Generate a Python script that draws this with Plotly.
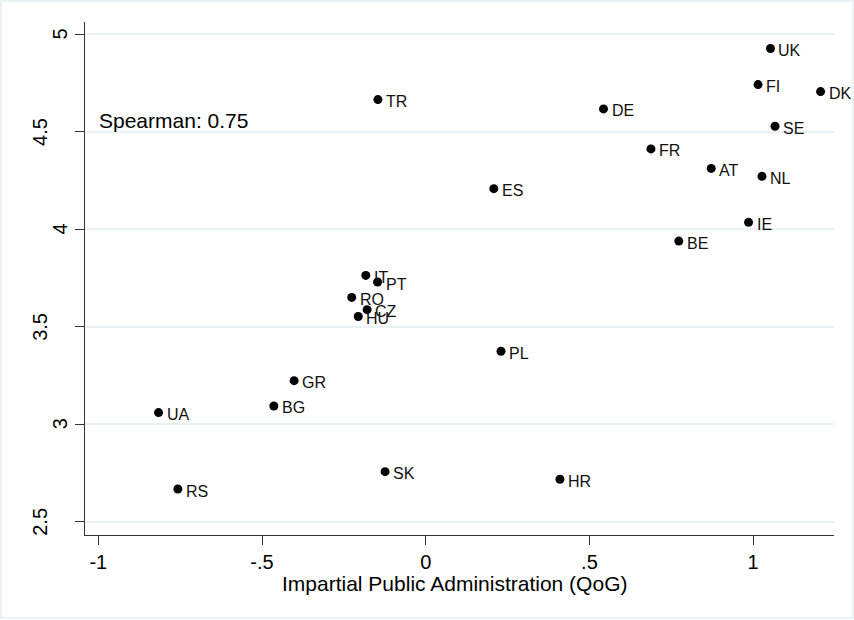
import plotly.graph_objects as go

countries = ["UK", "FI", "DK", "DE", "TR", "SE", "FR", "AT", "NL", "ES", "IE", "BE",
             "IT", "PT", "RO", "CZ", "HU", "PL", "GR", "BG", "UA", "SK", "HR", "RS"]
qog = [1.053, 1.015, 1.206, 0.543, -0.146, 1.067, 0.688, 0.872, 1.027, 0.208, 0.986, 0.773,
       -0.183, -0.147, -0.226, -0.179, -0.206, 0.230, -0.402, -0.464, -0.816, -0.124, 0.410, -0.757]
score = [4.928, 4.743, 4.707, 4.618, 4.666, 4.529, 4.413, 4.313, 4.272, 4.209, 4.036, 3.940,
         3.764, 3.730, 3.651, 3.588, 3.553, 3.375, 3.224, 3.094, 3.060, 2.757, 2.718, 2.668]

x_ticks = [-1, -0.5, 0, 0.5, 1]
x_tick_labels = ["-1", "-.5", "0", ".5", "1"]
y_ticks = [2.5, 3, 3.5, 4, 4.5, 5]
y_tick_labels = ["2.5", "3", "3.5", "4", "4.5", "5"]

x_title = "Impartial Public Administration (QoG)"
note_text = "Spearman: 0.75"
note_x, note_y = -1.0, 4.56

FONT = "Liberation Sans, Arial, sans-serif"
GRID = "#EAF2F3"

fig = go.Figure()
fig.add_trace(go.Scatter(
    x=qog, y=score, mode="markers",
    marker=dict(color="black", size=9, line=dict(width=0)),
    hoverinfo="skip", showlegend=False,
))

annotations = []
for c, xv, yv in zip(countries, qog, score):
    annotations.append(dict(x=xv, y=yv, xref="x", yref="y", text=c, showarrow=False,
                            xanchor="left", yanchor="middle", xshift=6, yshift=-2,
                            font=dict(family=FONT, size=16, color="#111111")))
for t, lab in zip(y_ticks, y_tick_labels):
    shift = -25 if len(lab) == 1 else -45
    annotations.append(dict(x=0, y=t, xref="paper", yref="y", text=lab, showarrow=False,
                            textangle=-90, xanchor="center", yanchor="middle", xshift=shift,
                            font=dict(family=FONT, size=20, color="black")))
annotations.append(dict(x=note_x, y=note_y, xref="x", yref="y", text=note_text,
                        showarrow=False, xanchor="left", yanchor="middle", xshift=-1,
                        font=dict(family=FONT, size=21, color="black")))
annotations.append(dict(x=0.5, y=0, xref="paper", yref="paper", text=x_title,
                        showarrow=False, xanchor="center", yanchor="middle",
                        xshift=-5, yshift=-48,
                        font=dict(family=FONT, size=21, color="black")))

fig.update_layout(
    width=854, height=620,
    margin=dict(l=85, r=20, t=22, b=85),
    paper_bgcolor="white", plot_bgcolor="white",
    font=dict(family=FONT, color="black"),
    annotations=annotations,
    shapes=[dict(type="rect", xref="paper", yref="paper",
                 x0=-0.1121, x1=1.025, y0=-0.1618, y1=1.041,
                 line=dict(color=GRID, width=2), layer="below")],
    xaxis=dict(range=[-1.0406, 1.247], tickmode="array", tickvals=x_ticks,
               ticktext=x_tick_labels, ticks="outside", ticklen=9, tickcolor="#333333",
               tickwidth=1, showline=True, linecolor="#333333", linewidth=1,
               showgrid=False, zeroline=False, tickfont=dict(size=20, family=FONT)),
    yaxis=dict(range=[2.432, 5.064], tickmode="array", tickvals=y_ticks,
               showticklabels=False, ticks="outside", ticklen=9, tickcolor="#333333",
               tickwidth=1, showline=True, linecolor="#333333", linewidth=1,
               showgrid=True, gridcolor=GRID, gridwidth=1.5, zeroline=False),
)

fig.write_html("out.html", config={"displayModeBar": False},
               post_script="document.body.style.margin='0';document.body.style.overflow='hidden';")
